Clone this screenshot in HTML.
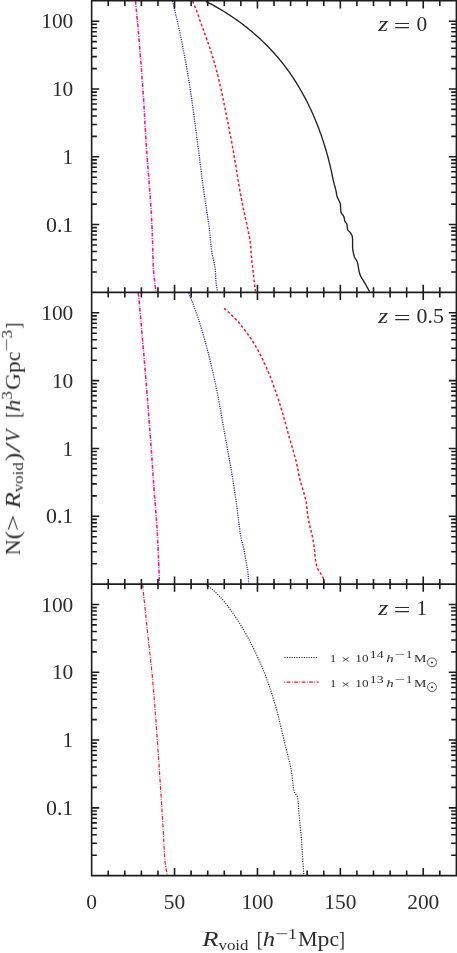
<!DOCTYPE html>
<html><head><meta charset="utf-8"><title>void abundance</title>
<style>
html,body{margin:0;padding:0;background:#fff;}
body{width:457px;height:953px;position:relative;overflow:hidden;font-family:"Liberation Serif",serif;}
svg{display:block;position:absolute;left:0;top:0;}
text{font-family:"Liberation Serif",serif;}
</style></head><body>
<svg width="457" height="953" viewBox="0 0 457 953" style="position:absolute;left:0;top:0">
<path d="M135.5,1.0 L135.7,3.0 L135.9,5.0 L136.1,7.0 L136.3,9.1 L136.5,11.1 L136.7,13.1 L136.8,15.1 L137.0,17.1 L137.2,19.1 L137.4,21.1 L137.6,23.2 L137.8,25.2 L138.0,27.2 L138.1,29.2 L138.3,31.2 L138.5,33.2 L138.7,35.2 L138.8,37.3 L139.0,39.3 L139.2,41.3 L139.3,43.3 L139.5,45.3 L139.7,47.3 L139.8,49.4 L140.0,51.4 L140.2,53.4 L140.3,55.4 L140.5,57.4 L140.7,59.4 L140.8,61.4 L141.0,63.5 L141.1,65.5 L141.3,67.5 L141.4,69.5 L141.6,71.5 L141.7,73.6 L141.9,75.6 L142.0,77.6 L142.2,79.6 L142.3,81.6 L142.5,83.6 L142.6,85.7 L142.8,87.7 L142.9,89.7 L143.0,91.7 L143.2,93.7 L143.3,95.7 L143.5,97.8 L143.6,99.8 L143.7,101.8 L143.8,103.8 L144.0,105.8 L144.1,107.9 L144.2,109.9 L144.3,111.9 L144.5,113.9 L144.6,115.9 L144.7,118.0 L144.8,120.0 L144.9,122.0 L145.0,124.0 L145.2,126.0 L145.3,128.0 L145.4,130.1 L145.5,132.1 L145.6,134.1 L145.7,136.1 L145.9,138.1 L146.0,140.2 L146.1,142.2 L146.2,144.2 L146.4,146.2 L146.5,148.2 L146.6,150.3 L146.8,152.3 L146.9,154.3 L147.0,156.3 L147.2,158.3 L147.3,160.3 L147.5,162.4 L147.7,164.4 L147.8,166.4 L148.0,168.4 L148.1,170.4 L148.3,172.4 L148.5,174.5 L148.6,176.5 L148.8,178.5 L149.0,180.5 L149.1,182.5 L149.3,184.5 L149.4,186.6 L149.6,188.6 L149.7,190.6 L149.9,192.6 L150.0,194.6 L150.2,196.6 L150.3,198.7 L150.4,200.7 L150.6,202.7 L150.7,204.7 L150.8,206.7 L151.0,208.8 L151.1,210.8 L151.2,212.8 L151.4,214.8 L151.5,216.8 L151.6,218.9 L151.7,220.9 L151.8,222.9 L151.9,224.9 L152.0,226.9 L152.1,229.0 L152.2,231.0 L152.3,233.0 L152.4,235.0 L152.4,237.0 L152.5,239.1 L152.6,241.1 L152.6,243.1 L152.7,245.1 L152.7,247.1 L152.7,249.2 L152.8,251.2 L152.8,253.2 L152.9,255.2 L153.0,257.3 L153.0,259.3 L153.1,261.3 L153.2,263.3 L153.2,265.3 L153.3,267.4 L153.5,269.4 L153.6,271.4 L153.8,273.4 L154.0,275.4 L154.2,277.4 L154.4,279.5 L154.7,281.5 L154.9,283.5 L155.1,285.5 L155.4,287.5 L155.6,289.5 L155.9,291.5" fill="none" stroke="#ee1a9c" stroke-width="1.6" stroke-dasharray="3.8 1.45 0.8 1.45"/>
<path d="M172.5,1.0 L173.0,3.0 L173.5,4.9 L174.0,6.9 L174.4,8.8 L174.9,10.8 L175.4,12.8 L175.8,14.7 L176.3,16.7 L176.7,18.6 L177.2,20.6 L177.6,22.6 L178.1,24.5 L178.5,26.5 L179.0,28.5 L179.4,30.4 L179.8,32.4 L180.2,34.4 L180.6,36.3 L181.1,38.3 L181.5,40.3 L181.9,42.3 L182.3,44.2 L182.7,46.2 L183.0,48.2 L183.4,50.2 L183.8,52.2 L184.2,54.1 L184.6,56.1 L184.9,58.1 L185.3,60.1 L185.7,62.1 L186.0,64.0 L186.4,66.0 L186.7,68.0 L187.1,70.0 L187.4,72.0 L187.8,74.0 L188.1,76.0 L188.4,77.9 L188.8,79.9 L189.1,81.9 L189.4,83.9 L189.7,85.9 L190.0,87.9 L190.3,89.9 L190.6,91.9 L190.9,93.9 L191.2,95.9 L191.5,97.9 L191.8,99.9 L192.1,101.8 L192.3,103.8 L192.6,105.8 L192.9,107.8 L193.2,109.8 L193.5,111.8 L193.7,113.8 L194.0,115.8 L194.3,117.8 L194.5,119.8 L194.8,121.8 L195.1,123.8 L195.3,125.8 L195.6,127.8 L195.9,129.8 L196.1,131.8 L196.4,133.8 L196.6,135.8 L196.9,137.8 L197.2,139.8 L197.4,141.8 L197.7,143.8 L197.9,145.8 L198.2,147.8 L198.5,149.8 L198.7,151.8 L199.0,153.8 L199.3,155.8 L199.5,157.8 L199.8,159.8 L200.0,161.8 L200.3,163.8 L200.5,165.8 L200.8,167.8 L201.0,169.8 L201.3,171.8 L201.5,173.8 L201.8,175.8 L202.0,177.8 L202.3,179.8 L202.5,181.8 L202.8,183.8 L203.1,185.8 L203.3,187.8 L203.6,189.8 L203.9,191.8 L204.1,193.8 L204.4,195.7 L204.7,197.7 L205.0,199.7 L205.3,201.7 L205.6,203.7 L205.9,205.7 L206.2,207.7 L206.5,209.7 L206.8,211.7 L207.2,213.7 L207.5,215.7 L207.8,217.7 L208.1,219.6 L208.4,221.6 L208.7,223.6 L209.0,225.6 L209.2,227.6 L209.4,229.6 L209.7,231.6 L209.8,233.6 L210.0,235.7 L210.2,237.7 L210.4,239.7 L210.6,241.7 L210.8,243.7 L211.0,245.7 L211.2,247.7 L211.5,249.7 L211.8,251.7 L212.1,253.7 L212.5,255.6 L213.0,257.6 L213.5,259.6 L213.9,261.5 L214.3,263.5 L214.7,265.5 L215.0,267.5 L215.3,269.5 L215.4,271.5 L215.5,273.5 L215.6,275.5 L215.7,277.5 L215.8,279.5 L215.9,281.5 L216.2,283.5 L216.4,285.5 L216.8,287.5 L217.1,289.5 L217.5,291.5" fill="none" stroke="#2222a2" stroke-width="1.3" stroke-dasharray="1.1 1.2"/>
<path d="M192.6,1.0 L193.4,2.9 L194.2,4.7 L194.9,6.6 L195.7,8.4 L196.4,10.3 L197.1,12.2 L197.8,14.1 L198.4,16.0 L199.1,17.9 L199.7,19.8 L200.4,21.7 L201.1,23.6 L201.8,25.5 L202.5,27.4 L203.2,29.3 L203.8,31.2 L204.5,33.1 L205.2,35.0 L205.9,36.9 L206.6,38.8 L207.3,40.7 L208.0,42.6 L208.6,44.5 L209.3,46.4 L210.0,48.3 L210.6,50.2 L211.2,52.1 L211.8,54.0 L212.4,55.9 L213.0,57.9 L213.6,59.8 L214.1,61.7 L214.7,63.7 L215.2,65.6 L215.8,67.6 L216.3,69.5 L216.8,71.5 L217.3,73.4 L217.8,75.4 L218.3,77.3 L218.8,79.3 L219.2,81.2 L219.7,83.2 L220.1,85.2 L220.6,87.1 L221.0,89.1 L221.4,91.1 L221.8,93.0 L222.3,95.0 L222.7,97.0 L223.1,98.9 L223.5,100.9 L223.9,102.9 L224.3,104.9 L224.7,106.8 L225.1,108.8 L225.5,110.8 L225.9,112.8 L226.3,114.7 L226.7,116.7 L227.1,118.7 L227.5,120.7 L227.9,122.6 L228.3,124.6 L228.7,126.6 L229.1,128.6 L229.4,130.5 L229.8,132.5 L230.2,134.5 L230.6,136.5 L231.0,138.5 L231.3,140.4 L231.7,142.4 L232.1,144.4 L232.4,146.4 L232.8,148.4 L233.2,150.3 L233.5,152.3 L233.9,154.3 L234.2,156.3 L234.6,158.3 L234.9,160.3 L235.2,162.3 L235.5,164.2 L235.9,166.2 L236.2,168.2 L236.5,170.2 L236.8,172.2 L237.2,174.2 L237.5,176.2 L237.8,178.2 L238.1,180.2 L238.5,182.1 L238.8,184.1 L239.1,186.1 L239.5,188.1 L239.8,190.1 L240.1,192.1 L240.5,194.1 L240.9,196.0 L241.2,198.0 L241.6,200.0 L242.0,202.0 L242.4,203.9 L242.8,205.9 L243.2,207.9 L243.6,209.9 L244.1,211.8 L244.5,213.8 L244.9,215.8 L245.4,217.7 L245.8,219.7 L246.3,221.7 L246.7,223.6 L247.1,225.6 L247.5,227.6 L247.9,229.5 L248.3,231.5 L248.7,233.5 L249.1,235.5 L249.5,237.5 L249.9,239.4 L250.2,241.4 L250.4,243.4 L250.6,245.4 L250.8,247.4 L250.9,249.4 L251.0,251.4 L251.2,253.5 L251.3,255.5 L251.5,257.5 L251.7,259.5 L251.9,261.5 L252.1,263.5 L252.4,265.5 L252.6,267.5 L252.9,269.5 L253.1,271.5 L253.3,273.5 L253.6,275.5 L253.8,277.5 L254.0,279.5 L254.3,281.5 L254.5,283.5 L254.7,285.5 L254.9,287.5 L255.2,289.5 L255.4,291.5" fill="none" stroke="#ee1c2e" stroke-width="1.5" stroke-dasharray="2.7 2.15"/>
<path d="M205.8,1.4 L207.6,2.4 L209.4,3.3 L211.2,4.2 L213.0,5.2 L214.8,6.2 L216.5,7.1 L218.3,8.1 L220.0,9.2 L221.8,10.2 L223.5,11.2 L225.2,12.3 L226.9,13.4 L228.6,14.5 L230.3,15.6 L232.0,16.7 L233.7,17.8 L235.4,19.0 L237.0,20.1 L238.6,21.3 L240.3,22.5 L241.9,23.7 L243.5,24.9 L245.1,26.2 L246.7,27.4 L248.3,28.7 L249.8,30.0 L251.4,31.3 L252.9,32.6 L254.5,33.9 L256.0,35.2 L257.5,36.6 L259.0,37.9 L260.5,39.3 L262.0,40.7 L263.4,42.1 L264.9,43.5 L266.3,44.9 L267.7,46.3 L269.1,47.8 L270.5,49.3 L271.9,50.7 L273.3,52.2 L274.6,53.7 L275.9,55.3 L277.3,56.8 L278.6,58.3 L279.9,59.9 L281.1,61.4 L282.4,63.0 L283.7,64.6 L284.9,66.2 L286.1,67.8 L287.3,69.5 L288.5,71.1 L289.7,72.7 L290.8,74.4 L292.0,76.1 L293.1,77.7 L294.2,79.4 L295.3,81.1 L296.4,82.8 L297.4,84.6 L298.5,86.3 L299.5,88.0 L300.5,89.8 L301.5,91.5 L302.5,93.3 L303.5,95.1 L304.5,96.8 L305.4,98.6 L306.3,100.4 L307.3,102.2 L308.2,104.0 L309.0,105.8 L309.9,107.7 L310.8,109.5 L311.6,111.3 L312.5,113.2 L313.3,115.0 L314.1,116.9 L314.9,118.7 L315.6,120.6 L316.4,122.5 L317.2,124.4 L317.9,126.2 L318.6,128.1 L319.3,130.0 L320.0,131.9 L320.7,133.8 L321.4,135.7 L322.0,137.6 L322.7,139.6 L323.3,141.5 L323.9,143.4 L324.5,145.3 L325.1,147.3 L325.7,149.2 L326.3,151.1 L326.8,153.1 L327.4,155.0 L327.9,157.0 L328.4,158.9 L328.9,160.9 L329.4,162.8 L329.9,164.8 L330.4,166.8 L330.8,168.7 L331.3,170.7 L331.7,172.7 L332.1,174.7 L332.5,176.6 L332.9,178.6 L333.3,180.6 L333.8,182.6 L334.3,184.5 L334.9,186.5 L335.4,188.4 L335.9,190.4 L336.3,192.4 L336.6,194.4 L337.0,196.3 L337.7,198.2 L338.7,200.0 L339.7,201.9 L340.3,203.7 L340.5,205.7 L340.6,207.8 L340.7,209.9 L340.9,211.8 L341.6,213.6 L343.0,215.2 L344.0,217.0 L344.4,219.0 L344.7,221.0 L345.9,222.6 L346.9,224.2 L347.2,226.2 L347.4,228.4 L347.9,230.2 L349.4,231.6 L350.7,233.1 L351.7,234.9 L352.4,236.9 L352.6,238.9 L352.6,240.9 L352.6,242.9 L352.6,244.9 L352.6,246.9 L352.7,249.0 L353.0,251.0 L353.4,253.0 L353.9,255.0 L354.4,256.9 L355.2,258.7 L356.5,260.4 L357.4,262.2 L357.9,264.1 L358.2,266.1 L358.5,268.1 L358.8,270.1 L359.3,272.1 L359.8,274.1 L360.5,275.9 L361.5,277.7 L362.6,279.4 L363.7,281.1 L364.7,282.8 L365.7,284.6 L366.7,286.4 L367.7,288.1 L368.6,289.9 L369.6,291.7" fill="none" stroke="#222" stroke-width="1.35"/>
<path d="M138.3,293.0 L138.5,295.0 L138.7,297.0 L138.9,299.0 L139.1,301.1 L139.3,303.1 L139.4,305.1 L139.6,307.1 L139.8,309.1 L140.0,311.1 L140.2,313.1 L140.4,315.2 L140.6,317.2 L140.7,319.2 L140.9,321.2 L141.1,323.2 L141.3,325.2 L141.5,327.2 L141.7,329.3 L141.8,331.3 L142.0,333.3 L142.2,335.3 L142.4,337.3 L142.5,339.3 L142.7,341.3 L142.9,343.4 L143.1,345.4 L143.2,347.4 L143.4,349.4 L143.6,351.4 L143.8,353.4 L143.9,355.5 L144.1,357.5 L144.3,359.5 L144.4,361.5 L144.6,363.5 L144.8,365.5 L144.9,367.6 L145.1,369.6 L145.3,371.6 L145.4,373.6 L145.6,375.6 L145.7,377.6 L145.9,379.7 L146.1,381.7 L146.2,383.7 L146.4,385.7 L146.6,387.7 L146.7,389.7 L146.9,391.7 L147.0,393.8 L147.2,395.8 L147.4,397.8 L147.5,399.8 L147.7,401.8 L147.8,403.8 L148.0,405.9 L148.2,407.9 L148.3,409.9 L148.5,411.9 L148.6,413.9 L148.8,415.9 L148.9,418.0 L149.1,420.0 L149.2,422.0 L149.4,424.0 L149.6,426.0 L149.7,428.1 L149.9,430.1 L150.0,432.1 L150.2,434.1 L150.3,436.1 L150.5,438.1 L150.6,440.2 L150.8,442.2 L150.9,444.2 L151.0,446.2 L151.2,448.2 L151.3,450.2 L151.5,452.3 L151.6,454.3 L151.8,456.3 L151.9,458.3 L152.0,460.3 L152.2,462.4 L152.3,464.4 L152.5,466.4 L152.6,468.4 L152.7,470.4 L152.9,472.4 L153.0,474.5 L153.1,476.5 L153.3,478.5 L153.4,480.5 L153.6,482.5 L153.7,484.6 L153.9,486.6 L154.0,488.6 L154.1,490.6 L154.3,492.6 L154.4,494.6 L154.6,496.7 L154.8,498.7 L154.9,500.7 L155.1,502.7 L155.3,504.7 L155.4,506.7 L155.6,508.8 L155.7,510.8 L155.9,512.8 L156.1,514.8 L156.2,516.8 L156.4,518.8 L156.5,520.9 L156.7,522.9 L156.8,524.9 L156.9,526.9 L157.1,528.9 L157.2,530.9 L157.3,533.0 L157.4,535.0 L157.5,537.0 L157.6,539.0 L157.7,541.0 L157.8,543.1 L157.9,545.1 L158.0,547.1 L158.1,549.1 L158.2,551.1 L158.3,553.2 L158.4,555.2 L158.4,557.2 L158.5,559.2 L158.6,561.3 L158.7,563.3 L158.8,565.3 L158.8,567.3 L158.9,569.3 L159.0,571.4 L159.0,573.4 L159.1,575.4 L159.2,577.4 L159.2,579.5 L159.3,581.5 L159.3,583.5" fill="none" stroke="#ee1a9c" stroke-width="1.6" stroke-dasharray="3.8 1.45 0.8 1.45"/>
<path d="M188.8,293.0 L189.6,294.9 L190.3,296.8 L191.0,298.6 L191.8,300.5 L192.5,302.4 L193.2,304.3 L193.9,306.2 L194.6,308.1 L195.3,310.0 L196.0,311.9 L196.6,313.8 L197.3,315.7 L198.0,317.6 L198.6,319.6 L199.2,321.5 L199.8,323.4 L200.4,325.3 L201.0,327.2 L201.6,329.2 L202.2,331.1 L202.8,333.0 L203.3,335.0 L203.9,336.9 L204.4,338.9 L205.0,340.8 L205.5,342.8 L206.0,344.7 L206.6,346.7 L207.1,348.6 L207.6,350.6 L208.1,352.5 L208.6,354.5 L209.1,356.5 L209.6,358.4 L210.1,360.4 L210.5,362.3 L211.0,364.3 L211.5,366.3 L211.9,368.2 L212.4,370.2 L212.9,372.2 L213.3,374.2 L213.7,376.1 L214.2,378.1 L214.6,380.1 L215.0,382.1 L215.5,384.0 L215.9,386.0 L216.3,388.0 L216.7,390.0 L217.1,391.9 L217.5,393.9 L217.9,395.9 L218.3,397.9 L218.6,399.9 L219.0,401.9 L219.4,403.8 L219.7,405.8 L220.1,407.8 L220.5,409.8 L220.8,411.8 L221.2,413.8 L221.5,415.8 L221.9,417.8 L222.2,419.8 L222.6,421.7 L222.9,423.7 L223.3,425.7 L223.6,427.7 L224.0,429.7 L224.3,431.7 L224.7,433.7 L225.0,435.7 L225.4,437.7 L225.7,439.7 L226.1,441.6 L226.5,443.6 L226.8,445.6 L227.2,447.6 L227.5,449.6 L227.9,451.6 L228.3,453.6 L228.6,455.6 L229.0,457.5 L229.4,459.5 L229.7,461.5 L230.1,463.5 L230.4,465.5 L230.8,467.5 L231.1,469.5 L231.5,471.5 L231.8,473.5 L232.2,475.5 L232.5,477.4 L232.8,479.4 L233.1,481.4 L233.4,483.4 L233.7,485.4 L234.0,487.4 L234.3,489.4 L234.6,491.4 L234.9,493.4 L235.2,495.4 L235.5,497.4 L235.9,499.4 L236.2,501.4 L236.4,503.4 L236.7,505.4 L237.0,507.4 L237.2,509.4 L237.4,511.4 L237.7,513.4 L237.9,515.4 L238.2,517.5 L238.4,519.5 L238.7,521.5 L238.9,523.5 L239.2,525.5 L239.5,527.5 L239.8,529.5 L240.0,531.5 L240.3,533.5 L240.6,535.5 L241.0,537.5 L241.4,539.4 L241.8,541.4 L242.4,543.4 L242.9,545.3 L243.4,547.3 L243.9,549.2 L244.3,551.2 L244.6,553.2 L245.0,555.2 L245.3,557.2 L245.6,559.2 L246.0,561.2 L246.3,563.2 L246.7,565.1 L247.1,567.1 L247.5,569.1 L247.7,571.1 L248.0,573.1 L248.2,575.1 L248.3,577.1 L248.5,579.2 L248.6,581.2 L248.7,583.2" fill="none" stroke="#2222a2" stroke-width="1.3" stroke-dasharray="1.1 1.2"/>
<path d="M224.1,308.3 L225.7,309.6 L227.2,311.0 L228.7,312.3 L230.2,313.7 L231.6,315.1 L233.1,316.5 L234.5,318.0 L235.9,319.4 L237.2,320.9 L238.6,322.4 L239.9,324.0 L241.2,325.5 L242.5,327.1 L243.8,328.7 L245.0,330.3 L246.2,331.9 L247.4,333.6 L248.6,335.2 L249.7,336.9 L250.9,338.6 L252.0,340.2 L253.1,341.9 L254.1,343.7 L255.2,345.4 L256.2,347.2 L257.2,348.9 L258.2,350.7 L259.2,352.5 L260.1,354.3 L261.0,356.1 L261.9,357.9 L262.8,359.7 L263.7,361.5 L264.5,363.4 L265.4,365.2 L266.2,367.1 L267.0,368.9 L267.8,370.8 L268.6,372.7 L269.3,374.6 L270.1,376.4 L270.8,378.3 L271.6,380.2 L272.3,382.1 L273.0,384.0 L273.7,385.9 L274.4,387.8 L275.1,389.7 L275.7,391.6 L276.4,393.5 L277.0,395.5 L277.7,397.4 L278.3,399.3 L278.9,401.2 L279.5,403.2 L280.2,405.1 L280.8,407.0 L281.4,409.0 L281.9,410.9 L282.5,412.9 L283.1,414.8 L283.6,416.7 L284.2,418.7 L284.7,420.6 L285.3,422.6 L285.8,424.6 L286.3,426.5 L286.9,428.5 L287.4,430.4 L287.9,432.4 L288.5,434.3 L289.0,436.3 L289.5,438.2 L290.1,440.2 L290.7,442.1 L291.2,444.1 L291.8,446.0 L292.4,448.0 L293.0,449.9 L293.5,451.9 L294.1,453.8 L294.6,455.8 L295.2,457.7 L295.7,459.7 L296.2,461.6 L296.7,463.6 L297.1,465.6 L297.5,467.6 L297.9,469.5 L298.3,471.5 L298.6,473.5 L299.0,475.5 L299.4,477.5 L299.9,479.5 L300.4,481.4 L301.0,483.4 L301.6,485.3 L302.2,487.2 L302.8,489.2 L303.4,491.1 L303.9,493.1 L304.5,495.0 L305.0,497.0 L305.6,498.9 L306.0,500.9 L306.4,502.9 L306.6,504.9 L306.8,506.9 L307.0,508.9 L307.2,510.9 L307.4,513.0 L307.7,515.0 L308.0,517.0 L308.3,519.0 L308.7,521.0 L309.1,522.9 L309.5,524.9 L310.0,526.9 L310.5,528.9 L311.0,530.8 L311.5,532.8 L312.0,534.7 L312.5,536.7 L312.9,538.7 L313.2,540.7 L313.5,542.7 L313.8,544.7 L314.1,546.7 L314.3,548.7 L314.6,550.7 L314.8,552.8 L314.9,554.8 L315.1,556.8 L315.3,558.8 L315.6,560.8 L316.0,562.8 L316.4,564.8 L317.0,566.8 L317.6,568.6 L318.7,570.3 L319.9,572.0 L320.9,573.8 L322.0,575.5 L323.0,577.3 L323.7,579.2 L324.1,581.2 L324.3,583.2" fill="none" stroke="#ee1c2e" stroke-width="1.5" stroke-dasharray="2.7 2.15"/>
<path d="M142.6,584.5 L142.8,586.5 L143.0,588.5 L143.2,590.5 L143.4,592.6 L143.6,594.6 L143.8,596.6 L144.0,598.6 L144.2,600.6 L144.5,602.6 L144.7,604.6 L144.9,606.7 L145.1,608.7 L145.3,610.7 L145.5,612.7 L145.7,614.7 L145.9,616.7 L146.1,618.7 L146.3,620.8 L146.5,622.8 L146.8,624.8 L147.0,626.8 L147.2,628.8 L147.4,630.8 L147.6,632.8 L147.8,634.9 L148.0,636.9 L148.3,638.9 L148.5,640.9 L148.7,642.9 L148.9,644.9 L149.2,646.9 L149.4,649.0 L149.6,651.0 L149.8,653.0 L150.1,655.0 L150.3,657.0 L150.5,659.0 L150.7,661.0 L150.9,663.0 L151.2,665.1 L151.4,667.1 L151.6,669.1 L151.8,671.1 L152.0,673.1 L152.2,675.1 L152.4,677.1 L152.6,679.2 L152.8,681.2 L152.9,683.2 L153.1,685.2 L153.3,687.2 L153.5,689.2 L153.6,691.3 L153.8,693.3 L154.0,695.3 L154.1,697.3 L154.3,699.3 L154.4,701.4 L154.6,703.4 L154.8,705.4 L154.9,707.4 L155.1,709.4 L155.2,711.5 L155.4,713.5 L155.5,715.5 L155.7,717.5 L155.8,719.5 L156.0,721.6 L156.1,723.6 L156.3,725.6 L156.4,727.6 L156.6,729.6 L156.7,731.6 L156.9,733.7 L157.0,735.7 L157.2,737.7 L157.3,739.7 L157.4,741.7 L157.6,743.8 L157.7,745.8 L157.9,747.8 L158.0,749.8 L158.1,751.8 L158.3,753.9 L158.4,755.9 L158.6,757.9 L158.7,759.9 L158.8,762.0 L159.0,764.0 L159.1,766.0 L159.2,768.0 L159.4,770.0 L159.5,772.1 L159.6,774.1 L159.8,776.1 L159.9,778.1 L160.0,780.1 L160.2,782.2 L160.3,784.2 L160.4,786.2 L160.6,788.2 L160.7,790.2 L160.8,792.3 L161.0,794.3 L161.1,796.3 L161.2,798.3 L161.4,800.3 L161.5,802.4 L161.6,804.4 L161.7,806.4 L161.9,808.4 L162.0,810.5 L162.1,812.5 L162.3,814.5 L162.4,816.5 L162.5,818.5 L162.6,820.6 L162.8,822.6 L162.9,824.6 L163.0,826.6 L163.1,828.6 L163.2,830.7 L163.4,832.7 L163.5,834.7 L163.6,836.7 L163.7,838.8 L163.8,840.8 L163.8,842.8 L163.9,844.8 L164.0,846.9 L164.2,848.9 L164.3,850.9 L164.4,852.9 L164.5,854.9 L164.7,857.0 L164.8,859.0 L165.0,861.0 L165.2,863.0 L165.5,865.0 L165.8,867.0 L166.1,869.0 L166.5,871.0 L166.8,873.0 L167.2,875.0" fill="none" stroke="#ee1c2e" stroke-width="1.2" stroke-dasharray="3.8 1.45 0.8 1.45"/>
<path d="M206.5,584.5 L208.1,585.8 L209.7,587.1 L211.2,588.4 L212.7,589.7 L214.2,591.1 L215.7,592.5 L217.2,593.9 L218.6,595.3 L220.0,596.8 L221.3,598.3 L222.7,599.8 L224.0,601.3 L225.3,602.9 L226.6,604.5 L227.8,606.1 L229.0,607.7 L230.2,609.3 L231.4,611.0 L232.6,612.6 L233.8,614.3 L234.9,615.9 L236.0,617.6 L237.1,619.3 L238.2,621.0 L239.3,622.7 L240.4,624.5 L241.4,626.2 L242.4,628.0 L243.5,629.7 L244.5,631.5 L245.5,633.2 L246.5,635.0 L247.4,636.8 L248.4,638.6 L249.4,640.3 L250.3,642.1 L251.2,643.9 L252.2,645.7 L253.1,647.5 L254.0,649.4 L254.9,651.2 L255.8,653.0 L256.6,654.8 L257.5,656.7 L258.3,658.5 L259.2,660.4 L260.0,662.2 L260.8,664.1 L261.6,665.9 L262.4,667.8 L263.1,669.7 L263.9,671.6 L264.6,673.4 L265.4,675.3 L266.1,677.2 L266.8,679.1 L267.5,681.0 L268.2,682.9 L268.8,684.8 L269.5,686.8 L270.1,688.7 L270.8,690.6 L271.4,692.5 L272.0,694.5 L272.6,696.4 L273.2,698.3 L273.8,700.3 L274.4,702.2 L275.0,704.2 L275.6,706.1 L276.1,708.0 L276.7,710.0 L277.2,711.9 L277.7,713.9 L278.2,715.9 L278.7,717.8 L279.2,719.8 L279.6,721.8 L280.1,723.7 L280.6,725.7 L281.0,727.7 L281.5,729.7 L282.0,731.6 L282.4,733.6 L282.9,735.6 L283.4,737.5 L283.9,739.5 L284.4,741.5 L284.9,743.4 L285.3,745.4 L285.8,747.4 L286.3,749.3 L286.8,751.3 L287.3,753.3 L287.8,755.2 L288.2,757.2 L288.7,759.2 L289.2,761.1 L289.7,763.1 L290.2,765.1 L290.6,767.1 L291.0,769.0 L291.4,771.0 L291.7,773.0 L292.0,775.1 L292.2,777.1 L292.4,779.2 L292.6,781.2 L292.8,783.3 L293.1,785.3 L293.3,787.3 L293.7,789.2 L294.1,791.1 L294.8,792.9 L296.1,794.6 L297.2,796.4 L297.7,798.2 L298.0,800.1 L298.2,802.1 L298.4,804.1 L298.5,806.2 L298.6,808.2 L298.8,810.3 L298.9,812.4 L299.0,814.4 L299.2,816.4 L299.4,818.5 L299.6,820.5 L299.8,822.5 L300.0,824.5 L300.2,826.5 L300.4,828.5 L300.7,830.6 L300.9,832.6 L301.1,834.6 L301.2,836.6 L301.4,838.6 L301.6,840.6 L301.7,842.7 L301.8,844.7 L301.9,846.7 L302.1,848.7 L302.2,850.7 L302.3,852.8 L302.4,854.8 L302.5,856.8 L302.7,858.8 L302.8,860.9 L302.9,862.9 L303.1,864.9 L303.2,866.9 L303.4,868.9 L303.5,871.0 L303.6,873.0 L303.8,875.0" fill="none" stroke="#1c1c1c" stroke-width="1.15" stroke-dasharray="1.1 1.32"/>
<path d="M284.4,657.5 H318.2" fill="none" stroke="#1c1c1c" stroke-width="1.15" stroke-dasharray="1.1 1.32"/>
<path d="M284.4,682.2 H318.6" fill="none" stroke="#ee1c2e" stroke-width="1.2" stroke-dasharray="3.8 1.45 0.8 1.45" stroke-dashoffset="5.25"/>
<path d="M108.23,0.80v5.2M108.23,292.35v-5.2M124.81,0.80v5.2M124.81,292.35v-5.2M141.39,0.80v5.2M141.39,292.35v-5.2M157.97,0.80v5.2M157.97,292.35v-5.2M174.55,0.80v7.6M174.55,292.35v-7.6M191.13,0.80v5.2M191.13,292.35v-5.2M207.71,0.80v5.2M207.71,292.35v-5.2M224.29,0.80v5.2M224.29,292.35v-5.2M240.87,0.80v5.2M240.87,292.35v-5.2M257.45,0.80v7.6M257.45,292.35v-7.6M274.02,0.80v5.2M274.02,292.35v-5.2M290.60,0.80v5.2M290.60,292.35v-5.2M307.18,0.80v5.2M307.18,292.35v-5.2M323.76,0.80v5.2M323.76,292.35v-5.2M340.34,0.80v7.6M340.34,292.35v-7.6M356.92,0.80v5.2M356.92,292.35v-5.2M373.50,0.80v5.2M373.50,292.35v-5.2M390.08,0.80v5.2M390.08,292.35v-5.2M406.66,0.80v5.2M406.66,292.35v-5.2M423.24,0.80v7.6M423.24,292.35v-7.6M439.82,0.80v5.2M439.82,292.35v-5.2M91.65,271.94h5.2M456.40,271.94h-5.2M91.65,260.01h5.2M456.40,260.01h-5.2M91.65,251.54h5.2M456.40,251.54h-5.2M91.65,244.97h5.2M456.40,244.97h-5.2M91.65,239.60h5.2M456.40,239.60h-5.2M91.65,235.06h5.2M456.40,235.06h-5.2M91.65,231.13h5.2M456.40,231.13h-5.2M91.65,227.67h5.2M456.40,227.67h-5.2M91.65,224.56h7.6M456.40,224.56h-7.6M91.65,204.16h5.2M456.40,204.16h-5.2M91.65,192.22h5.2M456.40,192.22h-5.2M91.65,183.75h5.2M456.40,183.75h-5.2M91.65,177.18h5.2M456.40,177.18h-5.2M91.65,171.82h5.2M456.40,171.82h-5.2M91.65,167.28h5.2M456.40,167.28h-5.2M91.65,163.35h5.2M456.40,163.35h-5.2M91.65,159.88h5.2M456.40,159.88h-5.2M91.65,156.78h7.6M456.40,156.78h-7.6M91.65,136.37h5.2M456.40,136.37h-5.2M91.65,124.44h5.2M456.40,124.44h-5.2M91.65,115.97h5.2M456.40,115.97h-5.2M91.65,109.40h5.2M456.40,109.40h-5.2M91.65,104.03h5.2M456.40,104.03h-5.2M91.65,99.49h5.2M456.40,99.49h-5.2M91.65,95.56h5.2M456.40,95.56h-5.2M91.65,92.09h5.2M456.40,92.09h-5.2M91.65,88.99h7.6M456.40,88.99h-7.6M91.65,68.59h5.2M456.40,68.59h-5.2M91.65,56.65h5.2M456.40,56.65h-5.2M91.65,48.18h5.2M456.40,48.18h-5.2M91.65,41.61h5.2M456.40,41.61h-5.2M91.65,36.24h5.2M456.40,36.24h-5.2M91.65,31.71h5.2M456.40,31.71h-5.2M91.65,27.77h5.2M456.40,27.77h-5.2M91.65,24.31h5.2M456.40,24.31h-5.2M91.65,21.21h7.6M456.40,21.21h-7.6M108.23,292.35v5.2M108.23,584.10v-5.2M124.81,292.35v5.2M124.81,584.10v-5.2M141.39,292.35v5.2M141.39,584.10v-5.2M157.97,292.35v5.2M157.97,584.10v-5.2M174.55,292.35v7.6M174.55,584.10v-7.6M191.13,292.35v5.2M191.13,584.10v-5.2M207.71,292.35v5.2M207.71,584.10v-5.2M224.29,292.35v5.2M224.29,584.10v-5.2M240.87,292.35v5.2M240.87,584.10v-5.2M257.45,292.35v7.6M257.45,584.10v-7.6M274.02,292.35v5.2M274.02,584.10v-5.2M290.60,292.35v5.2M290.60,584.10v-5.2M307.18,292.35v5.2M307.18,584.10v-5.2M323.76,292.35v5.2M323.76,584.10v-5.2M340.34,292.35v7.6M340.34,584.10v-7.6M356.92,292.35v5.2M356.92,584.10v-5.2M373.50,292.35v5.2M373.50,584.10v-5.2M390.08,292.35v5.2M390.08,584.10v-5.2M406.66,292.35v5.2M406.66,584.10v-5.2M423.24,292.35v7.6M423.24,584.10v-7.6M439.82,292.35v5.2M439.82,584.10v-5.2M91.65,563.68h5.2M456.40,563.68h-5.2M91.65,551.74h5.2M456.40,551.74h-5.2M91.65,543.26h5.2M456.40,543.26h-5.2M91.65,536.69h5.2M456.40,536.69h-5.2M91.65,531.32h5.2M456.40,531.32h-5.2M91.65,526.77h5.2M456.40,526.77h-5.2M91.65,522.84h5.2M456.40,522.84h-5.2M91.65,519.37h5.2M456.40,519.37h-5.2M91.65,516.27h7.6M456.40,516.27h-7.6M91.65,495.85h5.2M456.40,495.85h-5.2M91.65,483.90h5.2M456.40,483.90h-5.2M91.65,475.43h5.2M456.40,475.43h-5.2M91.65,468.85h5.2M456.40,468.85h-5.2M91.65,463.48h5.2M456.40,463.48h-5.2M91.65,458.94h5.2M456.40,458.94h-5.2M91.65,455.01h5.2M456.40,455.01h-5.2M91.65,451.54h5.2M456.40,451.54h-5.2M91.65,448.43h7.6M456.40,448.43h-7.6M91.65,428.02h5.2M456.40,428.02h-5.2M91.65,416.07h5.2M456.40,416.07h-5.2M91.65,407.60h5.2M456.40,407.60h-5.2M91.65,401.02h5.2M456.40,401.02h-5.2M91.65,395.65h5.2M456.40,395.65h-5.2M91.65,391.11h5.2M456.40,391.11h-5.2M91.65,387.18h5.2M456.40,387.18h-5.2M91.65,383.71h5.2M456.40,383.71h-5.2M91.65,380.60h7.6M456.40,380.60h-7.6M91.65,360.18h5.2M456.40,360.18h-5.2M91.65,348.24h5.2M456.40,348.24h-5.2M91.65,339.76h5.2M456.40,339.76h-5.2M91.65,333.19h5.2M456.40,333.19h-5.2M91.65,327.82h5.2M456.40,327.82h-5.2M91.65,323.28h5.2M456.40,323.28h-5.2M91.65,319.34h5.2M456.40,319.34h-5.2M91.65,315.87h5.2M456.40,315.87h-5.2M91.65,312.77h7.6M456.40,312.77h-7.6M108.23,584.10v5.2M108.23,875.60v-5.2M124.81,584.10v5.2M124.81,875.60v-5.2M141.39,584.10v5.2M141.39,875.60v-5.2M157.97,584.10v5.2M157.97,875.60v-5.2M174.55,584.10v7.6M174.55,875.60v-7.6M191.13,584.10v5.2M191.13,875.60v-5.2M207.71,584.10v5.2M207.71,875.60v-5.2M224.29,584.10v5.2M224.29,875.60v-5.2M240.87,584.10v5.2M240.87,875.60v-5.2M257.45,584.10v7.6M257.45,875.60v-7.6M274.02,584.10v5.2M274.02,875.60v-5.2M290.60,584.10v5.2M290.60,875.60v-5.2M307.18,584.10v5.2M307.18,875.60v-5.2M323.76,584.10v5.2M323.76,875.60v-5.2M340.34,584.10v7.6M340.34,875.60v-7.6M356.92,584.10v5.2M356.92,875.60v-5.2M373.50,584.10v5.2M373.50,875.60v-5.2M390.08,584.10v5.2M390.08,875.60v-5.2M406.66,584.10v5.2M406.66,875.60v-5.2M423.24,584.10v7.6M423.24,875.60v-7.6M439.82,584.10v5.2M439.82,875.60v-5.2M91.65,855.20h5.2M456.40,855.20h-5.2M91.65,843.26h5.2M456.40,843.26h-5.2M91.65,834.80h5.2M456.40,834.80h-5.2M91.65,828.23h5.2M456.40,828.23h-5.2M91.65,822.86h5.2M456.40,822.86h-5.2M91.65,818.32h5.2M456.40,818.32h-5.2M91.65,814.39h5.2M456.40,814.39h-5.2M91.65,810.93h5.2M456.40,810.93h-5.2M91.65,807.83h7.6M456.40,807.83h-7.6M91.65,787.42h5.2M456.40,787.42h-5.2M91.65,775.49h5.2M456.40,775.49h-5.2M91.65,767.02h5.2M456.40,767.02h-5.2M91.65,760.45h5.2M456.40,760.45h-5.2M91.65,755.09h5.2M456.40,755.09h-5.2M91.65,750.55h5.2M456.40,750.55h-5.2M91.65,746.62h5.2M456.40,746.62h-5.2M91.65,743.15h5.2M456.40,743.15h-5.2M91.65,740.05h7.6M456.40,740.05h-7.6M91.65,719.65h5.2M456.40,719.65h-5.2M91.65,707.71h5.2M456.40,707.71h-5.2M91.65,699.25h5.2M456.40,699.25h-5.2M91.65,692.68h5.2M456.40,692.68h-5.2M91.65,687.31h5.2M456.40,687.31h-5.2M91.65,682.78h5.2M456.40,682.78h-5.2M91.65,678.84h5.2M456.40,678.84h-5.2M91.65,675.38h5.2M456.40,675.38h-5.2M91.65,672.28h7.6M456.40,672.28h-7.6M91.65,651.87h5.2M456.40,651.87h-5.2M91.65,639.94h5.2M456.40,639.94h-5.2M91.65,631.47h5.2M456.40,631.47h-5.2M91.65,624.90h5.2M456.40,624.90h-5.2M91.65,619.54h5.2M456.40,619.54h-5.2M91.65,615.00h5.2M456.40,615.00h-5.2M91.65,611.07h5.2M456.40,611.07h-5.2M91.65,607.60h5.2M456.40,607.60h-5.2M91.65,604.50h7.6M456.40,604.50h-7.6" fill="none" stroke="#1c1c1c" stroke-width="1.6"/>
<path d="M91.65,0.8V875.6M456.4,0.8V875.6M90.85000000000001,0.8H457.2M90.85000000000001,292.35H457.2M90.85000000000001,584.1H457.2M90.85000000000001,875.6H457.2" fill="none" stroke="#1c1c1c" stroke-width="1.6"/>
<g fill="#2c2c2c" font-family="Liberation Serif, serif" style="will-change:transform">
<text x="202.30" y="946.30" font-size="21.4" textLength="16.24" lengthAdjust="spacingAndGlyphs" font-style="italic">R</text>
<text x="218.54" y="949.50" font-size="15.2" textLength="29.96" lengthAdjust="spacingAndGlyphs">void</text>
<text x="256.70" y="946.30" font-size="21.4" textLength="5.95" lengthAdjust="spacingAndGlyphs">[</text>
<text x="262.65" y="946.30" font-size="21.4" textLength="12.33" lengthAdjust="spacingAndGlyphs" font-style="italic">h</text>
<text x="274.97" y="938.50" font-size="15.2" textLength="13.38" lengthAdjust="spacingAndGlyphs">&#8722;</text>
<text x="288.35" y="938.50" font-size="15.2" textLength="8.52" lengthAdjust="spacingAndGlyphs">1</text>
<text x="297.94" y="946.30" font-size="21.4" textLength="19.62" lengthAdjust="spacingAndGlyphs">M</text>
<text x="317.56" y="946.30" font-size="21.4" textLength="11.90" lengthAdjust="spacingAndGlyphs">p</text>
<text x="329.46" y="946.30" font-size="21.4" textLength="9.50" lengthAdjust="spacingAndGlyphs">c</text>
<text x="338.96" y="946.30" font-size="21.4" textLength="5.95" lengthAdjust="spacingAndGlyphs">]</text>
<g transform="translate(19.9,555.4) rotate(-90)"><text x="0.00" y="0.00" font-size="21.4" textLength="16.05" lengthAdjust="spacingAndGlyphs">N</text><text x="16.05" y="0.00" font-size="21.4" textLength="8.32" lengthAdjust="spacingAndGlyphs">(</text><text x="24.37" y="0.00" font-size="21.4" textLength="16.65" lengthAdjust="spacingAndGlyphs">&gt;</text><text x="46.97" y="0.00" font-size="21.4" textLength="16.24" lengthAdjust="spacingAndGlyphs" font-style="italic">R</text><text x="63.21" y="3.20" font-size="15.2" textLength="29.96" lengthAdjust="spacingAndGlyphs">void</text><text x="94.24" y="0.00" font-size="21.4" textLength="8.32" lengthAdjust="spacingAndGlyphs">)</text><text x="102.57" y="0.00" font-size="21.4" textLength="10.70" lengthAdjust="spacingAndGlyphs">/</text><text x="113.27" y="0.00" font-size="21.4" textLength="12.48" lengthAdjust="spacingAndGlyphs" font-style="italic">V</text><text x="137.62" y="0.00" font-size="21.4" textLength="5.95" lengthAdjust="spacingAndGlyphs">[</text><text x="143.57" y="0.00" font-size="21.4" textLength="12.33" lengthAdjust="spacingAndGlyphs" font-style="italic">h</text><text x="155.89" y="-7.80" font-size="15.2" textLength="8.52" lengthAdjust="spacingAndGlyphs">3</text><text x="165.48" y="0.00" font-size="21.4" textLength="16.80" lengthAdjust="spacingAndGlyphs">G</text><text x="182.28" y="0.00" font-size="21.4" textLength="11.90" lengthAdjust="spacingAndGlyphs">p</text><text x="194.18" y="0.00" font-size="21.4" textLength="9.50" lengthAdjust="spacingAndGlyphs">c</text><text x="203.68" y="-7.80" font-size="15.2" textLength="13.38" lengthAdjust="spacingAndGlyphs">&#8722;</text><text x="217.06" y="-7.80" font-size="15.2" textLength="8.52" lengthAdjust="spacingAndGlyphs">3</text><text x="226.64" y="0.00" font-size="21.4" textLength="5.95" lengthAdjust="spacingAndGlyphs">]</text></g>
<text x="41.20" y="28.41" font-size="20.5" textLength="32.10" lengthAdjust="spacingAndGlyphs">100</text>
<text x="51.90" y="96.19" font-size="20.5" textLength="21.40" lengthAdjust="spacingAndGlyphs">10</text>
<text x="62.60" y="163.98" font-size="20.5" textLength="10.70" lengthAdjust="spacingAndGlyphs">1</text>
<text x="45.95" y="231.76" font-size="20.5" textLength="27.35" lengthAdjust="spacingAndGlyphs">0.1</text>
<text x="41.20" y="319.97" font-size="20.5" textLength="32.10" lengthAdjust="spacingAndGlyphs">100</text>
<text x="51.90" y="387.80" font-size="20.5" textLength="21.40" lengthAdjust="spacingAndGlyphs">10</text>
<text x="62.60" y="455.63" font-size="20.5" textLength="10.70" lengthAdjust="spacingAndGlyphs">1</text>
<text x="45.95" y="523.47" font-size="20.5" textLength="27.35" lengthAdjust="spacingAndGlyphs">0.1</text>
<text x="41.20" y="611.70" font-size="20.5" textLength="32.10" lengthAdjust="spacingAndGlyphs">100</text>
<text x="51.90" y="679.48" font-size="20.5" textLength="21.40" lengthAdjust="spacingAndGlyphs">10</text>
<text x="62.60" y="747.25" font-size="20.5" textLength="10.70" lengthAdjust="spacingAndGlyphs">1</text>
<text x="45.95" y="815.03" font-size="20.5" textLength="27.35" lengthAdjust="spacingAndGlyphs">0.1</text>
<text x="86.30" y="909.20" font-size="20.5" textLength="10.70" lengthAdjust="spacingAndGlyphs">0</text>
<text x="163.85" y="909.20" font-size="20.5" textLength="21.40" lengthAdjust="spacingAndGlyphs">50</text>
<text x="241.40" y="909.20" font-size="20.5" textLength="32.10" lengthAdjust="spacingAndGlyphs">100</text>
<text x="324.29" y="909.20" font-size="20.5" textLength="32.10" lengthAdjust="spacingAndGlyphs">150</text>
<text x="407.19" y="909.20" font-size="20.5" textLength="32.10" lengthAdjust="spacingAndGlyphs">200</text>
<text x="378.30" y="31.40" font-size="21.4" textLength="9.95" lengthAdjust="spacingAndGlyphs" font-style="italic">z</text>
<text x="393.80" y="33.30" font-size="21.4" textLength="16.65" lengthAdjust="spacingAndGlyphs">=</text>
<text x="416.60" y="31.40" font-size="20.5" textLength="10.70" lengthAdjust="spacingAndGlyphs">0</text>
<text x="378.30" y="322.95" font-size="21.4" textLength="9.95" lengthAdjust="spacingAndGlyphs" font-style="italic">z</text>
<text x="393.80" y="324.85" font-size="21.4" textLength="16.65" lengthAdjust="spacingAndGlyphs">=</text>
<text x="416.60" y="322.95" font-size="20.5" textLength="27.35" lengthAdjust="spacingAndGlyphs">0.5</text>
<text x="378.30" y="614.70" font-size="21.4" textLength="9.95" lengthAdjust="spacingAndGlyphs" font-style="italic">z</text>
<text x="393.80" y="616.60" font-size="21.4" textLength="16.65" lengthAdjust="spacingAndGlyphs">=</text>
<text x="416.60" y="614.70" font-size="20.5" textLength="10.70" lengthAdjust="spacingAndGlyphs">1</text>
<text x="329.90" y="662.00" font-size="10.2" textLength="6.20" lengthAdjust="spacingAndGlyphs">1</text>
<text x="341.30" y="663.10" font-size="10.2" textLength="8.80" lengthAdjust="spacingAndGlyphs">&#215;</text>
<text x="355.30" y="662.00" font-size="10.2" textLength="13.20" lengthAdjust="spacingAndGlyphs">10</text>
<text x="369.80" y="657.90" font-size="10.2" textLength="13.80" lengthAdjust="spacingAndGlyphs">14</text>
<text x="386.20" y="662.00" font-size="10.2" textLength="7.40" lengthAdjust="spacingAndGlyphs" font-style="italic">h</text>
<text x="395.00" y="657.90" font-size="10.2" textLength="10.20" lengthAdjust="spacingAndGlyphs">&#8722;</text>
<text x="405.90" y="657.90" font-size="10.2" textLength="6.20" lengthAdjust="spacingAndGlyphs">1</text>
<text x="414.00" y="662.00" font-size="10.2" textLength="12.40" lengthAdjust="spacingAndGlyphs">M</text>
<circle cx="432.0" cy="662.4" r="4.5" fill="none" stroke="#2c2c2c" stroke-width="0.75"/>
<circle cx="432.0" cy="662.4" r="1.0" fill="#2c2c2c"/>
<text x="329.90" y="686.80" font-size="10.2" textLength="6.20" lengthAdjust="spacingAndGlyphs">1</text>
<text x="341.30" y="687.90" font-size="10.2" textLength="8.80" lengthAdjust="spacingAndGlyphs">&#215;</text>
<text x="355.30" y="686.80" font-size="10.2" textLength="13.20" lengthAdjust="spacingAndGlyphs">10</text>
<text x="369.80" y="682.70" font-size="10.2" textLength="13.80" lengthAdjust="spacingAndGlyphs">13</text>
<text x="386.20" y="686.80" font-size="10.2" textLength="7.40" lengthAdjust="spacingAndGlyphs" font-style="italic">h</text>
<text x="395.00" y="682.70" font-size="10.2" textLength="10.20" lengthAdjust="spacingAndGlyphs">&#8722;</text>
<text x="405.90" y="682.70" font-size="10.2" textLength="6.20" lengthAdjust="spacingAndGlyphs">1</text>
<text x="414.00" y="686.80" font-size="10.2" textLength="12.40" lengthAdjust="spacingAndGlyphs">M</text>
<circle cx="432.0" cy="687.2" r="4.5" fill="none" stroke="#2c2c2c" stroke-width="0.75"/>
<circle cx="432.0" cy="687.2" r="1.0" fill="#2c2c2c"/>
</g>
</svg>
</body></html>
